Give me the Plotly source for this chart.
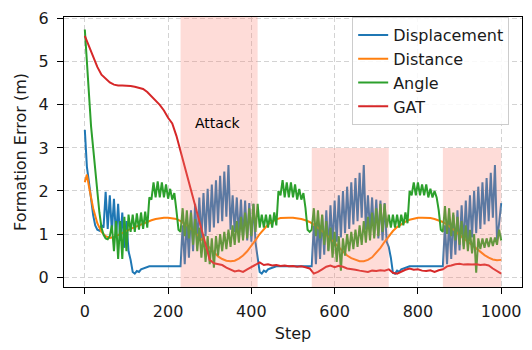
import plotly.graph_objects as go

# ---------------- data ----------------
steps5 = list(range(0, 1001, 5))
steps10 = list(range(0, 1001, 10))
orange_steps = [0, 5] + list(range(10, 1001, 10))

displacement = [
    3.42, 2.56, 2.2, 1.8, 1.44, 1.2, 1.1, 1.08, 1.2, 1.15,
    1.98, 1.12, 1.9, 1.05, 1.82, 0.92, 1.7, 0.84, 1.5, 0.68,
    1.3, 0.6, 0.4, 0.12, 0.08, 0.14, 0.12, 0.18, 0.2, 0.22,
    0.24, 0.25, 0.25, 0.25, 0.25, 0.25, 0.25, 0.25, 0.25, 0.25,
    0.25, 0.25, 0.25, 0.25, 0.25, 0.25, 0.25, 1.2, 0.3, 1.35,
    0.45, 1.55, 0.6, 1.7, 0.75, 1.85, 0.85, 1.95, 0.95, 2.05,
    1.05, 2.15, 1.15, 2.25, 1.25, 2.35, 1.3, 2.45, 1.4, 2.6,
    1.1, 1.9, 1.05, 1.85, 0.95, 1.8, 0.9, 1.78, 0.85, 1.72,
    0.82, 1.7, 0.8, 0.45, 0.12, 0.08, 0.15, 0.12, 0.18, 0.2,
    0.22, 0.24, 0.25, 0.25, 0.25, 0.25, 0.25, 0.25, 0.25, 0.25,
    0.25, 0.25, 0.25, 0.25, 0.25, 0.25, 0.25, 0.25, 0.25, 0.25,
    1.2, 0.3, 1.32, 0.42, 1.44, 0.52, 1.55, 0.62, 1.67, 0.72,
    1.78, 0.82, 1.9, 0.92, 2.0, 1.02, 2.1, 1.12, 2.2, 1.22,
    2.3, 1.3, 2.42, 1.38, 2.6, 1.1, 1.9, 1.05, 1.85, 0.95,
    1.8, 0.9, 1.78, 0.85, 1.72, 0.82, 0.7, 0.45, 0.1, 0.08,
    0.15, 0.12, 0.18, 0.2, 0.22, 0.24, 0.25, 0.25, 0.25, 0.25,
    0.25, 0.25, 0.25, 0.25, 0.25, 0.25, 0.25, 0.25, 0.25, 0.25,
    0.25, 0.25, 0.25, 1.2, 0.3, 1.32, 0.42, 1.44, 0.52, 1.55,
    0.62, 1.67, 0.72, 1.78, 0.82, 1.9, 0.92, 2.0, 1.02, 2.1,
    1.12, 2.2, 1.22, 2.3, 1.3, 2.42, 1.38, 2.6, 0.85, 1.25,
    1.72,
]

distance = [
    2.2, 2.38,
    2.1, 1.6, 1.25, 1.05, 0.95, 0.91, 0.93, 0.98, 1.03, 1.08,
    1.12, 1.16, 1.2, 1.25, 1.29, 1.32, 1.35, 1.37, 1.38, 1.38,
    1.37, 1.35, 1.3, 1.24, 1.17, 1.08, 0.98, 0.87, 0.76, 0.66,
    0.56, 0.48, 0.42, 0.38, 0.37, 0.38, 0.43, 0.5, 0.6, 0.72,
    0.86, 1.0, 1.12, 1.22, 1.29, 1.34, 1.37, 1.38, 1.38, 1.38,
    1.37, 1.35, 1.32, 1.28, 1.22, 1.15, 1.07, 0.98, 0.88, 0.78,
    0.68, 0.58, 0.5, 0.44, 0.4, 0.37, 0.37, 0.4, 0.46, 0.56,
    0.68, 0.82, 0.95, 1.07, 1.16, 1.23, 1.29, 1.33, 1.36, 1.38,
    1.38, 1.38, 1.37, 1.35, 1.32, 1.28, 1.22, 1.15, 1.07, 0.98,
    0.9, 0.82, 0.74, 0.66, 0.58, 0.51, 0.45, 0.41, 0.39, 0.4,
]

angle = [
    5.75, 4.9, 4.1, 3.5, 3.0, 2.45, 1.95, 1.5, 1.15, 0.98,
    0.9, 0.88, 0.95, 1.2, 0.6, 1.3, 0.42, 1.3, 0.42, 1.4,
    0.6, 1.45, 1.05, 1.45, 1.05, 1.48, 1.1, 1.5, 1.12, 1.52,
    1.15, 1.85, 1.8, 2.2, 1.85, 2.22, 1.85, 2.2, 1.85, 2.15,
    1.82, 2.05, 1.8, 1.95, 1.55, 1.1, 1.05, 1.6, 0.95, 1.55,
    0.9, 1.5, 0.75, 1.35, 0.6, 1.15, 0.45, 1.0, 0.35, 0.95,
    0.3, 0.9, 0.22, 0.95, 0.5, 1.0, 0.6, 1.05, 0.65, 1.1,
    0.7, 1.2, 0.75, 1.3, 0.8, 1.4, 0.85, 1.5, 0.9, 1.6,
    0.95, 1.7, 1.05, 1.7, 1.15, 1.45, 1.15, 1.45, 1.15, 1.45,
    1.15, 1.5, 1.2, 2.0, 1.9, 2.25, 1.85, 2.2, 1.85, 2.2,
    1.85, 2.15, 1.8, 2.05, 1.8, 1.95, 1.6, 1.1, 1.05, 1.1,
    1.6, 0.95, 1.55, 0.9, 1.45, 0.75, 1.3, 0.6, 1.15, 0.45,
    1.05, 0.35, 0.95, 0.15, 0.9, 0.5, 1.0, 0.6, 1.05, 0.65,
    1.1, 0.7, 1.2, 0.75, 1.3, 0.8, 1.4, 0.85, 1.5, 0.9,
    1.6, 0.95, 1.7, 1.05, 1.7, 1.15, 1.45, 1.15, 1.45, 1.15,
    1.45, 1.15, 1.45, 1.2, 1.5, 1.25, 2.0, 1.9, 2.2, 1.9,
    2.2, 1.9, 2.15, 1.9, 2.15, 1.85, 2.05, 1.85, 2.0, 1.85,
    1.55, 1.1, 1.05, 1.65, 1.0, 1.6, 0.95, 1.5, 0.85, 1.4,
    0.75, 1.3, 0.65, 1.2, 0.6, 1.1, 0.55, 1.0, 0.1, 0.9,
    0.65, 0.9, 0.68, 0.9, 0.7, 0.92, 0.72, 0.92, 0.75, 1.1,
    0.85,
]

gat = [
    5.6, 5.35, 5.1, 4.88, 4.7, 4.6, 4.52, 4.47, 4.45, 4.45,
    4.45, 4.44, 4.42, 4.4, 4.37, 4.3, 4.2, 4.11, 4.0, 3.87,
    3.7, 3.57, 3.28, 2.92, 2.55, 2.2, 1.85, 1.5, 1.12, 0.75,
    0.4, 0.32, 0.3, 0.28, 0.22, 0.18, 0.13, 0.15, 0.12, 0.18,
    0.24, 0.3, 0.34, 0.28, 0.3, 0.27, 0.28, 0.26, 0.27, 0.25,
    0.26, 0.24, 0.25, 0.23, 0.2, 0.08, 0.12, 0.18, 0.24, 0.27,
    0.23, 0.26, 0.24, 0.2, 0.19, 0.17, 0.15, 0.14, 0.12, 0.15,
    0.14, 0.16, 0.15, 0.18, 0.1, 0.08, 0.13, 0.17, 0.2, 0.17,
    0.18, 0.15, 0.14, 0.16, 0.12, 0.16, 0.18, 0.25, 0.27, 0.3,
    0.31, 0.29, 0.3, 0.29, 0.3, 0.28, 0.29, 0.27, 0.2, 0.14,
    0.08,
]

series_names = ["Displacement", "Distance", "Angle", "GAT"]
series_colors = ["#1f77b4", "#ff7f0e", "#2ca02c", "#d62728"]

attack_starts = [230, 545, 860]
attack_ends = [415, 730, 1000]
attack_tops = [6.04, 3.0, 3.0]
attack_label = "Attack"
attack_label_pos = (320, 3.58)

x_ticks = [0, 200, 400, 600, 800, 1000]
y_ticks = [0, 1, 2, 3, 4, 5, 6]
x_range = [-50, 1050]
y_range = [-0.23, 6.04]

# ---------------- figure ----------------
FONT = "DejaVu Sans"
FS = 16
TXT = "#1a1a1a"
fig = go.Figure()
xs_list = [steps5, orange_steps, steps5, steps10]
ys_list = [displacement, distance, angle, gat]
for name, xs, ys, col in zip(series_names, xs_list, ys_list, series_colors):
    fig.add_trace(go.Scatter(x=xs, y=ys, mode="lines", name=name,
                             line=dict(color=col, width=2), legendgroup=name))

for x0, x1, top in zip(attack_starts, attack_ends, attack_tops):
    fig.add_shape(type="rect", xref="x", yref="y", x0=x0, x1=x1,
                  y0=y_range[0], y1=top, fillcolor="rgb(250,128,114)",
                  opacity=0.28, line_width=0, layer="above")

fig.add_annotation(x=attack_label_pos[0], y=attack_label_pos[1], text=attack_label,
                   showarrow=False, font=dict(family=FONT, size=14, color="black"))

axis_common = dict(
    showgrid=True, gridcolor="#d3d3d3", gridwidth=1, griddash="5px,3px",
    zeroline=False, showline=True, mirror=True, linecolor="black", linewidth=1,
    ticks="outside", ticklen=6, tickcolor="black", tickwidth=1,
    tickfont=dict(family=FONT, size=FS, color=TXT),
)
fig.update_xaxes(range=x_range, tickvals=x_ticks, **axis_common, ticklabelstandoff=4,
                 title=dict(text="Step", font=dict(family=FONT, size=FS, color=TXT), standoff=7))
fig.update_yaxes(range=y_range, tickvals=y_ticks, **axis_common, ticklabelstandoff=5,
                 title=dict(text="Formation Error (m)", font=dict(family=FONT, size=FS, color=TXT), standoff=8))

fig.update_layout(
    width=532, height=350,
    margin=dict(l=64, r=10, t=9, b=63),
    paper_bgcolor="white", plot_bgcolor="white",
    font=dict(family=FONT, size=FS, color=TXT),
    legend=dict(x=0.972, y=1.0, xanchor="right", yanchor="top",
                bgcolor="rgba(255,255,255,0.85)", bordercolor="#cccccc", borderwidth=1,
                font=dict(family=FONT, size=FS, color=TXT),
                tracegroupgap=1, traceorder="normal"),
)

fig.write_html("out.html")
